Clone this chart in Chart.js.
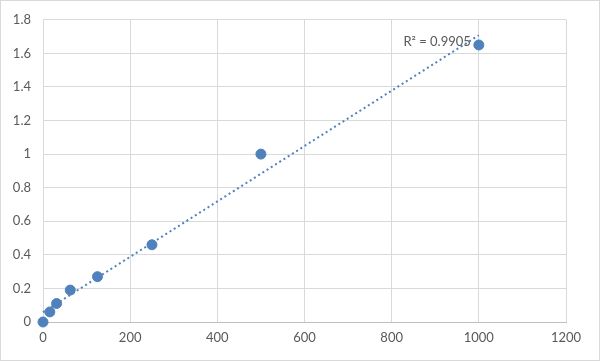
<!DOCTYPE html>
<html>
<head>
<meta charset="utf-8">
<script src="https://cdn.jsdelivr.net/npm/chart.js@4"></script>
<style>
  html, body { margin: 0; padding: 0; background: #fff; }
</style>
</head>
<body>
<canvas id="myChart" width="600" height="361"></canvas>
<script>
// standard curve points
var concentrations = [0, 15.625, 31.25, 62.5, 125, 250, 500, 1000];
var absorbance = [0, 0.06, 0.11, 0.19, 0.27, 0.46, 1.0, 1.65];
var xTicks = [0, 200, 400, 600, 800, 1000, 1200];
var yTicks = [0, 0.2, 0.4, 0.6, 0.8, 1, 1.2, 1.4, 1.6, 1.8];
var rSquaredLabel = 'R² = 0.9905';

// least squares trendline over the data range
var n = concentrations.length, mx = 0, my = 0;
for (var i = 0; i < n; i++) { mx += concentrations[i]; my += absorbance[i]; }
mx /= n; my /= n;
var sxy = 0, sxx = 0;
for (var i = 0; i < n; i++) {
  sxy += (concentrations[i] - mx) * (absorbance[i] - my);
  sxx += (concentrations[i] - mx) * (concentrations[i] - mx);
}
var slope = sxy / sxx, intercept = my - slope * mx;
var xMin = concentrations[0], xMax = concentrations[n - 1];
var trend = [{x: xMin, y: intercept + slope * xMin}, {x: xMax, y: intercept + slope * xMax}];

var points = concentrations.map(function (c, i) { return {x: c, y: absorbance[i]}; });

var frame = {
  id: 'frame',
  beforeDraw: function (chart) {
    var c = chart.ctx;
    c.save();
    c.strokeStyle = '#d9d9d9';
    c.lineWidth = 1;
    c.strokeRect(0.5, 0.5, chart.width - 1, chart.height - 1);
    c.restore();
  },
  afterDatasetsDraw: function (chart) {
    var c = chart.ctx;
    var xs = chart.scales.x, ys = chart.scales.y;
    c.save();
    c.font = '13px Lato, "Liberation Sans", sans-serif';
    c.fillStyle = '#595959';
    c.textAlign = 'right';
    c.textBaseline = 'middle';
    c.fillText(rSquaredLabel, xs.getPixelForValue(xMax) - 8, ys.getPixelForValue(1.67));
    c.restore();
  }
};

var tickFont = { family: 'Lato, "Liberation Sans", sans-serif', size: 13 };
var plain = function (v) { return String(v); };

var ctx = document.getElementById('myChart').getContext('2d');
var myChart = new Chart(ctx, {
  type: 'scatter',
  data: {
    datasets: [{
      data: points,
      backgroundColor: '#4f81bd',
      borderColor: '#4f81bd',
      pointRadius: 5,
      pointHoverRadius: 5,
      clip: false,
      order: 1
    }, {
      type: 'line',
      data: trend,
      borderColor: '#4f81bd',
      borderWidth: 2,
      borderDash: [2, 3],
      pointRadius: 0,
      fill: false,
      clip: false,
      order: 2
    }]
  },
  options: {
    responsive: false,
    animation: false,
    layout: { padding: { top: 19, right: 34, left: 0, bottom: 0 } },
    plugins: { legend: { display: false }, tooltip: { enabled: false } },
    scales: {
      x: {
        type: 'linear',
        min: 0,
        max: 1200,
        afterBuildTicks: function (s) { s.ticks = xTicks.map(function (v) { return {value: v}; }); },
        afterFit: function (s) { s.height = 39; },
        grid: { color: '#d9d9d9', drawTicks: false },
        border: { color: '#bfbfbf' },
        ticks: { color: '#595959', padding: 8, font: tickFont, callback: plain }
      },
      y: {
        min: 0,
        max: 1.8,
        afterBuildTicks: function (s) { s.ticks = yTicks.map(function (v) { return {value: v}; }); },
        afterFit: function (s) { s.width = 43; },
        grid: { color: '#d9d9d9', drawTicks: false },
        border: { color: '#d9d9d9' },
        ticks: { color: '#595959', padding: 12, font: tickFont, callback: plain }
      }
    }
  },
  plugins: [frame]
});
</script>
</body>
</html>
